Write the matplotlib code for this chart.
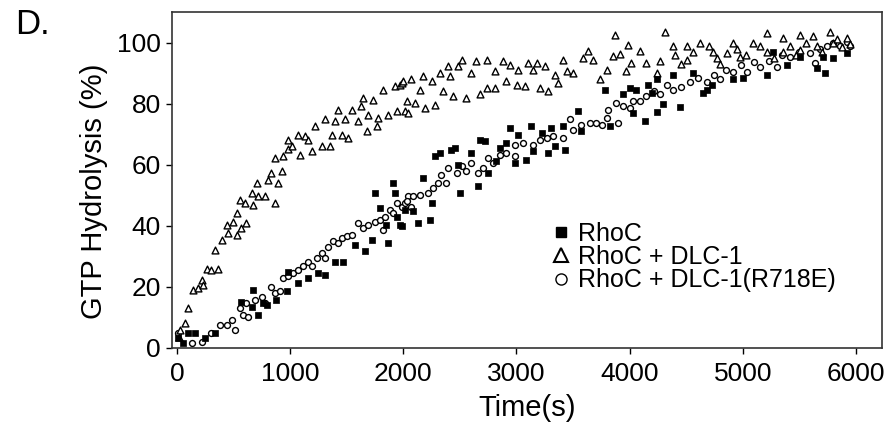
import matplotlib
matplotlib.use("Agg")
import matplotlib.pyplot as plt

plt.rcParams['font.family'] = ['Liberation Sans', 'DejaVu Sans']

# RhoC (filled squares)
rhoc_t = [12, 56, 100, 159, 247, 336, 571, 660, 674, 718, 763, 792, 880, 969, 983, 1072, 1160,
          1248, 1307, 1396, 1469, 1572, 1661, 1720, 1749, 1793, 1852, 1867, 1911, 1926, 1941,
          1970, 1985, 2014, 2088, 2132, 2176, 2235, 2250, 2279, 2323, 2426, 2456, 2485, 2500,
          2603, 2662, 2677, 2721, 2750, 2824, 2853, 2912, 2942, 2986, 3016, 3089, 3133, 3148,
          3222, 3280, 3310, 3339, 3413, 3428, 3545, 3575, 3781, 3825, 3943, 4002, 4031, 4061,
          4134, 4164, 4196, 4240, 4240, 4293, 4382, 4443, 4558, 4647, 4682, 4726, 4911, 5000,
          5212, 5265, 5389, 5503, 5654, 5707, 5724, 5795, 5918]
rhoc_y = [3.2, 1.5, 4.8, 4.8, 3.2, 4.8, 15.2, 13.5, 19.0, 10.8, 14.7, 14.1, 15.7, 18.5, 25.0, 21.2,
          22.8, 24.5, 23.9, 28.3, 28.3, 33.8, 31.6, 35.4, 50.7, 45.8, 40.3, 34.3, 54.0, 50.7, 43.0,
          40.3, 39.8, 45.2, 44.7, 40.9, 55.6, 42.0, 47.4, 62.7, 63.8, 64.9, 65.5, 60.0, 50.7,
          63.8, 52.9, 68.2, 67.7, 57.3, 61.1, 65.5, 67.1, 72.0, 60.6, 69.8, 61.6, 72.6, 64.4,
          70.4, 63.8, 72.0, 66.0, 72.6, 64.9, 77.5, 70.9, 84.6, 72.6, 83.0, 85.1, 77.0, 84.6,
          74.2, 86.2, 83.6, 77.4, 88.0, 80.0, 89.5, 79.0, 90.0, 83.6, 84.6, 86.0, 88.0, 88.5,
          89.5, 97.0, 92.8, 95.4, 91.8, 95.4, 90.0, 95.0, 96.7]

# RhoC + DLC-1 (open triangles)
dlc_t = [20, 26, 71, 100, 144, 188, 218, 233, 262, 306, 336, 365, 395, 439, 453, 498, 527, 527,
         557, 571, 600, 615, 660, 674, 704, 718, 777, 806, 836, 866, 866, 895, 925, 939, 983,
         983, 1013, 1072, 1087, 1131, 1160, 1190, 1219, 1278, 1307, 1352, 1367, 1396, 1425,
         1455, 1484, 1513, 1543, 1602, 1631, 1646, 1676, 1690, 1734, 1764, 1778, 1822, 1867,
         1926, 1941, 1970, 1985, 1999, 2014, 2029, 2043, 2073, 2102, 2147, 2176, 2191, 2250,
         2279, 2323, 2353, 2397, 2412, 2441, 2485, 2515, 2559, 2603, 2647, 2677, 2736, 2736,
         2809, 2809, 2883, 2912, 2942, 3001, 3016, 3074, 3104, 3148, 3178, 3207, 3251, 3280,
         3339, 3369, 3413, 3443, 3501, 3590, 3634, 3678, 3740, 3796, 3854, 3869, 3913, 3972,
         3987, 4016, 4090, 4149, 4240, 4267, 4311, 4382, 4400, 4450, 4505, 4505, 4560, 4620,
         4700, 4735, 4770, 4800, 4859, 4911, 4950, 4973, 5030, 5088, 5150, 5212, 5212, 5280,
         5353, 5353, 5420, 5470, 5503, 5503, 5560, 5618, 5654, 5700, 5768, 5795, 5830, 5880,
         5918, 5950]
dlc_y = [3.6, 6.0, 8.2, 13.0, 19.0, 19.6, 22.3, 20.7, 26.0, 25.6, 32.0, 26.0, 35.4, 40.3, 37.6,
         41.4, 37.0, 44.2, 48.5, 39.2, 47.4, 40.9, 50.7, 46.9, 54.0, 49.6, 49.6, 55.0, 57.3, 47.4,
         62.2, 54.0, 57.8, 62.7, 65.0, 68.2, 66.0, 69.8, 63.3, 69.3, 68.2, 64.4, 72.6, 66.0, 74.8,
         66.0, 69.8, 74.2, 78.0, 69.8, 74.8, 68.8, 78.0, 74.2, 79.1, 81.9, 70.9, 76.4, 81.3, 72.6,
         75.3, 84.6, 76.4, 85.7, 77.5, 86.2, 86.8, 87.3, 77.5, 80.8, 77.0, 87.9, 80.2, 84.6, 89.0,
         78.6, 87.3, 79.7, 90.1, 84.1, 92.3, 89.0, 82.4, 92.3, 94.4, 81.9, 90.1, 93.9, 83.0, 94.4,
         85.1, 85.1, 90.6, 93.9, 87.3, 92.8, 86.2, 91.1, 85.7, 93.3, 91.1, 93.3, 85.1, 92.3, 84.1,
         89.5, 86.8, 94.4, 90.6, 90.1, 95.0, 97.1, 94.4, 87.9, 91.1, 95.6, 102.6, 96.1, 90.6,
         99.3, 93.3, 97.1, 93.3, 90.0, 94.0, 103.6, 99.0, 96.0, 93.0, 94.4, 99.0, 97.0, 100.0,
         99.0, 97.0, 95.0, 93.0, 96.7, 100.0, 98.0, 95.4, 96.0, 100.0, 99.0, 103.0, 97.0, 95.0,
         101.6, 97.0, 99.0, 96.0, 102.6, 97.7, 100.0, 102.0, 98.7, 97.0, 103.6, 100.0, 101.0, 98.5,
         101.6, 99.5]

# RhoC + DLC-1(R718E) (open circles)
mut_t = [12, 130, 218, 306, 380, 439, 483, 512, 557, 586, 615, 630, 689, 748, 777, 836, 866,
         910, 939, 983, 1028, 1072, 1116, 1160, 1190, 1234, 1278, 1307, 1337, 1381, 1425, 1455,
         1499, 1543, 1602, 1646, 1690, 1749, 1793, 1822, 1837, 1882, 1911, 1941, 1985, 2014,
         2043, 2073, 2029, 2088, 2147, 2220, 2264, 2309, 2338, 2382, 2397, 2471, 2515, 2559,
         2603, 2662, 2706, 2750, 2795, 2853, 2912, 2986, 2986, 3060, 3148, 3207, 3266, 3325,
         3413, 3472, 3501, 3575, 3648, 3707, 3752, 3796, 3810, 3884, 3899, 3943, 4002, 4031,
         4090, 4149, 4220, 4267, 4330, 4382, 4450, 4532, 4600, 4682, 4750, 4797, 4850, 4911,
         4980, 5035, 5100, 5150, 5230, 5300, 5350, 5415, 5500, 5592, 5636, 5680, 5742, 5800,
         5857, 5918, 5950]
mut_y = [4.8, 1.5, 2.1, 4.8, 7.5, 7.5, 9.2, 5.9, 13.0, 10.8, 14.7, 10.3, 15.7, 16.8, 14.7, 20.1,
         17.9, 18.5, 22.8, 23.4, 24.5, 25.6, 26.7, 28.3, 26.7, 29.4, 31.0, 29.4, 33.2, 34.9, 34.3,
         36.0, 36.5, 37.0, 40.9, 39.2, 40.3, 41.4, 42.0, 38.7, 43.0, 45.2, 44.2, 47.4, 46.3, 47.4,
         49.6, 46.3, 48.0, 49.6, 50.2, 50.7, 52.4, 54.0, 56.7, 54.0, 58.9, 57.3, 59.5, 57.8, 60.6,
         57.3, 58.9, 62.2, 60.6, 63.3, 63.8, 62.7, 66.6, 67.1, 66.6, 68.2, 68.8, 69.3, 68.8, 74.8,
         71.5, 73.1, 73.7, 73.7, 73.1, 75.3, 78.0, 80.2, 73.7, 79.1, 78.6, 80.8, 80.8, 82.4, 84.0,
         83.0, 86.0, 84.6, 85.5, 87.0, 88.5, 87.0, 89.5, 88.0, 91.0, 90.5, 92.5, 90.5, 93.5, 92.0,
         94.0, 92.0, 96.0, 95.4, 97.0, 96.7, 93.4, 98.0, 98.7, 100.0, 98.7, 100.3, 99.0]

labels = ["RhoC", "RhoC + DLC-1", "RhoC + DLC-1(R718E)"]
x_ticks = [0, 1000, 2000, 3000, 4000, 5000, 6000]
y_ticks = [0, 20, 40, 60, 80, 100]

fig = plt.figure(figsize=(8.9, 4.28), dpi=100)
ax = fig.add_axes([0.193, 0.187, 0.798, 0.785])

ax.scatter(mut_t, mut_y, marker='o', s=18, facecolors='white', edgecolors='black',
           linewidths=1.0, zorder=3)
ax.scatter(dlc_t, dlc_y, marker='^', s=24, facecolors='white', edgecolors='black',
           linewidths=1.0, zorder=3)
ax.scatter(rhoc_t, rhoc_y, marker='s', s=18, facecolors='black', edgecolors='black',
           linewidths=0.5, zorder=4)

ax.set_xlim(-45, 6230)
ax.set_ylim(0, 110)
ax.set_xticks(x_ticks)
ax.set_yticks(y_ticks)
ax.tick_params(direction='out', length=4, width=1, labelsize=19, colors='black')
ax.tick_params(axis='x', pad=6)
ax.tick_params(axis='y', pad=4)
for s in ax.spines.values():
    s.set_linewidth(1.2)
    s.set_color('#333333')

ax.set_xlabel("Time(s)", fontsize=21, labelpad=6)
ax.set_ylabel("GTP Hydrolysis (%)", fontsize=21)
ax.yaxis.set_label_coords(-0.09, 0.467)

h1 = plt.Line2D([], [], marker='s', linestyle='none', markersize=7, markerfacecolor='black',
                markeredgecolor='black')
h2 = plt.Line2D([], [], marker='^', linestyle='none', markersize=10, markerfacecolor='white',
                markeredgecolor='black', markeredgewidth=1.5)
h3 = plt.Line2D([], [], marker='o', linestyle='none', markersize=8, markerfacecolor='white',
                markeredgecolor='black', markeredgewidth=1.0)
ax.legend([h1, h2, h3], labels, loc='upper left', bbox_to_anchor=(0.535, 0.375),
          frameon=False, fontsize=18, handlelength=0.75, handletextpad=0.3,
          labelspacing=-0.03, borderpad=0, borderaxespad=0)

fig.text(0.017, 0.942, "D.", fontsize=25, ha='left', va='center')

fig.savefig("out.png", dpi=100)
